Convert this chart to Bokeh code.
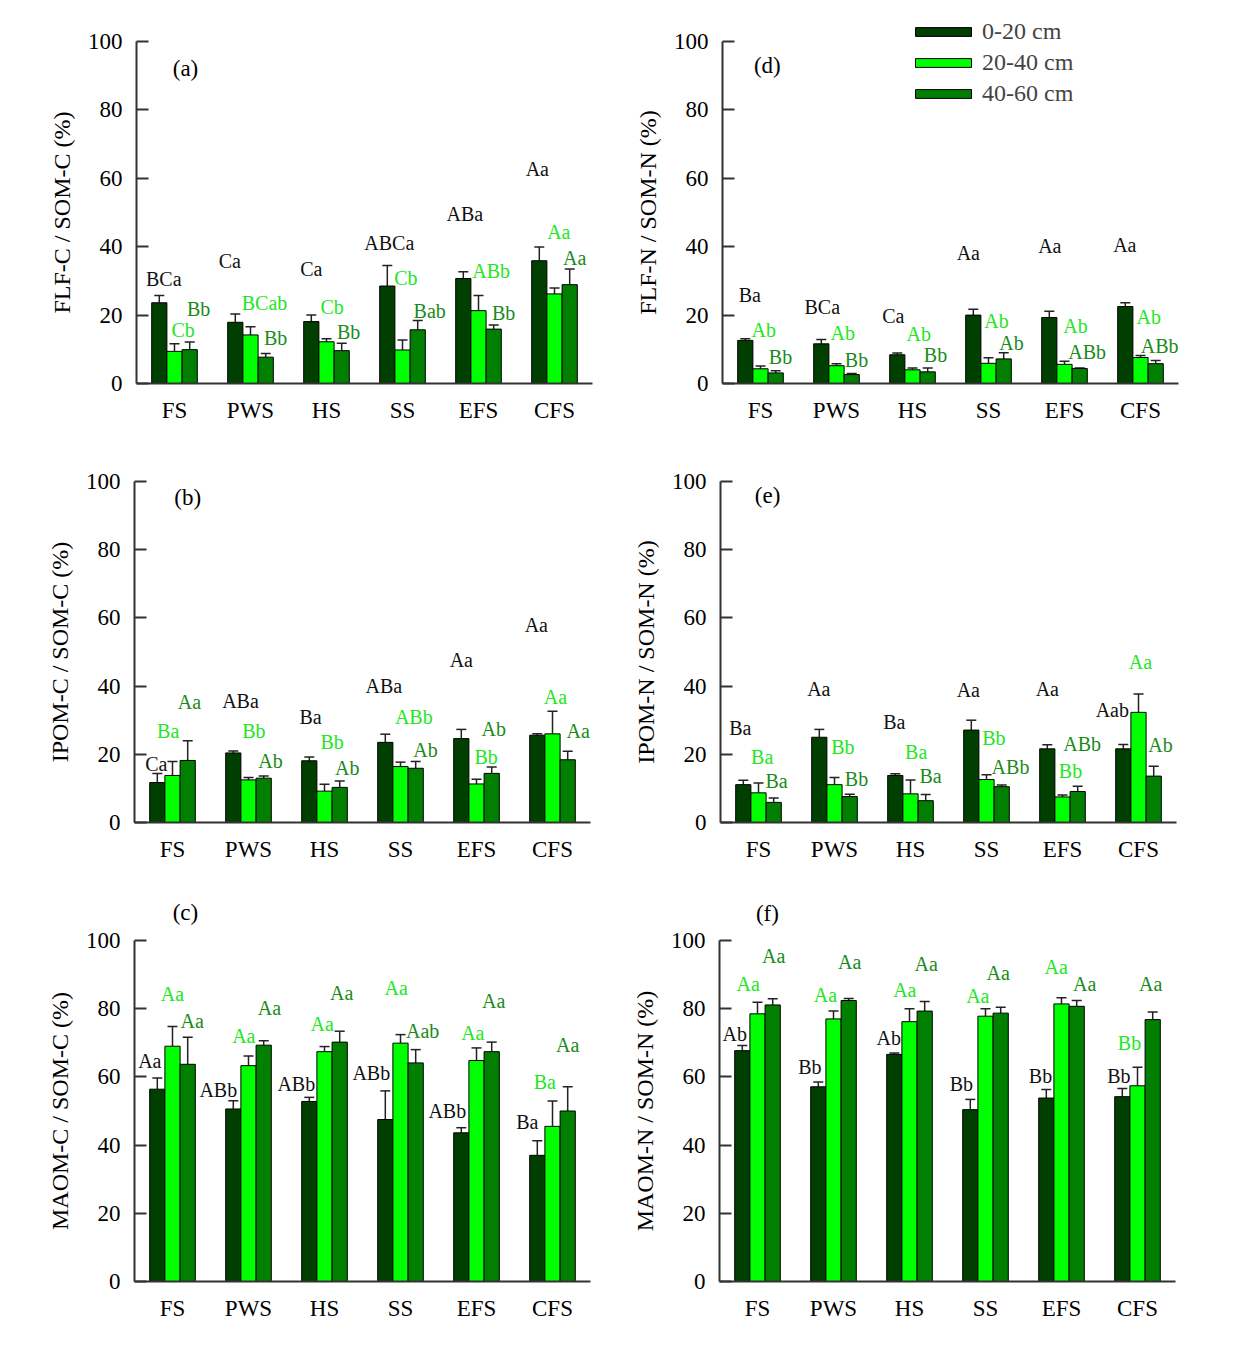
from bokeh.plotting import figure
from bokeh.models import (ColumnDataSource, FactorRange, Range1d, Whisker, TeeHead,
                          Label, Legend, LegendItem, FixedTicker, Title)
from bokeh.transform import dodge
from bokeh.layouts import column, row
from bokeh.embed import file_html
from bokeh.resources import INLINE
from bokeh.core.properties import value

# ---------------- data ----------------
cats = ["FS", "PWS", "HS", "SS", "EFS", "CFS"]
depths = ["0-20 cm", "20-40 cm", "40-60 cm"]

# (a) FLF-C / SOM-C (%)  rows: 0-20, 20-40, 40-60
flfc_mean = [[23.6, 17.9, 18.1, 28.5, 30.7, 35.9],
             [9.4, 14.2, 12.2, 9.8, 21.3, 26.2],
             [9.9, 7.7, 9.6, 15.7, 15.9, 28.9]]
flfc_err = [[2.1, 2.4, 1.9, 6.0, 2.0, 4.0],
            [2.2, 2.4, 0.9, 2.9, 4.4, 1.7],
            [2.2, 1.1, 2.2, 2.7, 1.2, 4.6]]
flfc_letters = [["BCa", "Ca", "Ca", "ABCa", "ABa", "Aa"],
                ["Cb", "BCab", "Cb", "Cb", "ABb", "Aa"],
                ["Bb", "Bb", "Bb", "Bab", "Bb", "Aa"]]

# (b) IPOM-C / SOM-C (%)
ipomc_mean = [[11.7, 20.4, 18.1, 23.5, 24.6, 25.6],
              [13.8, 12.5, 9.2, 16.4, 11.3, 26.0],
              [18.2, 13.0, 10.3, 15.9, 14.4, 18.4]]
ipomc_err = [[2.7, 0.6, 1.1, 2.4, 2.7, 0.4],
             [4.1, 0.7, 2.0, 1.3, 1.4, 6.6],
             [5.8, 0.6, 1.9, 2.0, 1.9, 2.5]]
ipomc_letters = [["Ca", "ABa", "Ba", "ABa", "Aa", "Aa"],
                 ["Ba", "Bb", "Bb", "ABb", "Bb", "Aa"],
                 ["Aa", "Ab", "Ab", "Ab", "Ab", "Aa"]]

# (c) MAOM-C / SOM-C (%)
maomc_mean = [[56.4, 50.6, 52.8, 47.5, 43.6, 37.0],
              [69.0, 63.3, 67.4, 69.9, 64.8, 45.5],
              [63.7, 69.3, 70.2, 64.1, 67.4, 50.0]]
maomc_err = [[3.3, 2.4, 1.2, 8.4, 1.5, 4.3],
             [5.8, 2.8, 1.5, 2.5, 3.7, 7.4],
             [7.9, 1.3, 3.2, 3.9, 2.8, 7.1]]
maomc_letters = [["Aa", "ABb", "ABb", "ABb", "ABb", "Ba"],
                 ["Aa", "Aa", "Aa", "Aa", "Aa", "Ba"],
                 ["Aa", "Aa", "Aa", "Aab", "Aa", "Aa"]]

# (d) FLF-N / SOM-N (%)
flfn_mean = [[12.6, 11.6, 8.4, 20.0, 19.3, 22.5],
             [4.3, 5.2, 4.0, 5.9, 5.6, 7.6],
             [3.1, 2.6, 3.4, 7.2, 4.4, 5.8]]
flfn_err = [[0.5, 1.3, 0.5, 1.7, 1.8, 1.1],
            [0.8, 0.6, 0.5, 1.6, 0.9, 0.6],
            [0.6, 0.3, 1.1, 1.8, 0.1, 0.9]]
flfn_letters = [["Ba", "BCa", "Ca", "Aa", "Aa", "Aa"],
                ["Ab", "Ab", "Ab", "Ab", "Ab", "Ab"],
                ["Bb", "Bb", "Bb", "Ab", "ABb", "ABb"]]

# (e) IPOM-N / SOM-N (%)
ipomn_mean = [[11.1, 25.0, 13.8, 27.1, 21.6, 21.6],
              [8.7, 11.1, 8.4, 12.6, 7.5, 32.3],
              [5.9, 7.6, 6.4, 10.5, 9.1, 13.6]]
ipomn_err = [[1.3, 2.3, 0.5, 2.9, 1.2, 1.3],
             [2.9, 2.1, 4.1, 1.4, 0.6, 5.4],
             [1.3, 0.7, 1.8, 0.5, 1.5, 2.9]]
ipomn_letters = [["Ba", "Aa", "Ba", "Aa", "Aa", "Aab"],
                 ["Ba", "Bb", "Ba", "Bb", "Bb", "Aa"],
                 ["Ba", "Bb", "Ba", "ABb", "ABb", "Ab"]]

# (f) MAOM-N / SOM-N (%)
maomn_mean = [[67.7, 57.1, 66.6, 50.4, 53.8, 54.2],
              [78.5, 77.0, 76.2, 77.8, 81.4, 57.4],
              [81.1, 82.4, 79.3, 78.7, 80.7, 76.8]]
maomn_err = [[1.5, 1.4, 0.4, 3.0, 2.5, 2.4],
             [3.4, 2.3, 3.8, 2.2, 1.8, 5.4],
             [1.8, 0.6, 2.8, 1.7, 1.7, 2.2]]
maomn_letters = [["Ab", "Bb", "Ab", "Bb", "Bb", "Bb"],
                 ["Aa", "Aa", "Aa", "Aa", "Aa", "Bb"],
                 ["Aa", "Aa", "Aa", "Aa", "Aa", "Aa"]]

# ---------------- letter placement (layout, not data) ----------------
flfc_ly = [[30.6, 35.7, 33.5, 41.0, 49.6, 62.8], [15.5, 23.6, 22.5, 30.8, 32.8, 44.4], [21.8, 13.3, 15.0, 21.3, 20.6, 36.8]]
flfc_dx = [[4.5, -5.5, 0, 2, 1.5, -2], [8.7, 14, 5.7, 3.3, 12.7, 4.3], [9, 10, 7, 12, 10, 5]]
ipomc_ly = [[17.2, 35.7, 31.0, 40.1, 47.6, 58.0], [26.9, 26.7, 23.5, 31.0, 19.1, 36.9], [35.4, 18.0, 16.0, 21.3, 27.4, 26.9]]
ipomc_dx = [[-1, 7.2, 1.2, -1.5, 0, -1], [-4.3, 5.3, 7.7, 13.3, 9.7, 3], [1.8, 6.8, 7.5, 9.8, 2, 10.5]]
maomc_ly = [[64.8, 56.3, 58.0, 61.2, 50.1, 46.9], [84.4, 72.1, 75.6, 86.1, 72.9, 58.4], [76.3, 80.1, 84.7, 73.4, 82.2, 69.5]]
maomc_dx = [[-7.5, -15, -13, -14, -14, -10], [0, -4.7, -2.3, -4.3, -3.7, -7.7], [4.5, 5.8, 2, 7, 2, 0]]
flfn_ly = [[26.0, 22.3, 19.7, 38.2, 40.1, 40.4], [15.7, 14.8, 14.5, 18.4, 16.8, 19.4], [7.7, 7.0, 8.2, 11.8, 9.2, 11.1]]
flfn_dx = [[4.5, 1, -4, -5, 0.5, -0.5], [3.3, 6.3, 6.3, 8, 11, 8.3], [4.8, 4.8, 7.8, 7.8, 7.5, 4.0]]
ipomn_ly = [[27.7, 39.2, 29.6, 38.9, 39.2, 33.1], [19.1, 22.1, 20.8, 24.8, 15.0, 47.2], [12.3, 12.8, 13.5, 16.4, 23.0, 22.8]]
ipomn_dx = [[-3, -0.5, -1, -3, 0, -11], [3.7, 8.3, 5.7, 7.3, 8, 2], [2.8, 6.8, 4.8, 8.8, 4.5, 6.8]]
maomn_ly = [[72.6, 62.8, 71.5, 58.0, 60.2, 60.2], [87.1, 84.1, 85.6, 83.6, 92.2, 70.0], [95.4, 93.6, 93.2, 90.5, 87.3, 87.3]]
maomn_dx = [[-7.5, -8.5, -5.5, -9, -5.8, -3.5], [-9.3, -8, -4.7, -7.7, -5.3, -8], [1, 1, 1.5, -2.5, 8, -2]]

FONT = "Liberation Serif"
BAR_COLORS = ["#003f00", "#00ff00", "#007f00"]
TEXT_COLORS = ["#111111", "#22e622", "#1a8a1a"]
OFFSETS = [-0.2, 0.0, 0.2]
AXIS_COLOR = "#333333"
FRAME_W = 456

# Times / Liberation Serif advance widths (em/1000) used to centre the
# rotated y titles on the 0..100 span of each axis
_W = {"F": 556, "L": 611, "I": 333, "P": 556, "O": 722, "M": 889, "A": 722,
      "C": 667, "N": 722, "S": 556, "-": 333, " ": 250, "/": 278, "(": 333,
      "%": 833, ")": 333}


def text_len(s, size):
    return sum(_W.get(ch, 500) for ch in s) / 1000.0 * size


def make_panel(means, errs, letters, lys, dxs, ylabel, tag, tag_xy,
               width, bl, bt, px100, frame_h, bb, legend_loc=None):
    # px100: pixel height of the 0..100 span; frame may extend above 100
    ymax = 100.0 * frame_h / px100
    height = bt + frame_h + bb
    p = figure(x_range=FactorRange(*cats, range_padding=0, factor_padding=0),
               y_range=Range1d(0, ymax), width=width, height=height,
               min_border_left=bl, min_border_right=width - bl - FRAME_W,
               min_border_top=bt, min_border_bottom=bb,
               output_backend="svg", toolbar_location=None)
    p.background_fill_color = "white"
    p.border_fill_color = "white"
    p.outline_line_color = None
    p.xgrid.visible = False
    p.ygrid.visible = False

    bar_renderers = []
    for k in range(3):
        src = ColumnDataSource(dict(
            cat=cats, mean=means[k],
            upper=[m + e for m, e in zip(means[k], errs[k])],
            letter=letters[k], ly=lys[k], dx=dxs[k]))
        xs = dodge("cat", OFFSETS[k], range=p.x_range)
        w = Whisker(base=xs, upper="upper", lower="mean", source=src,
                    line_color="#222222", line_width=1.5,
                    upper_head=TeeHead(size=10, line_color="#222222", line_width=1.5),
                    lower_head=None)
        p.add_layout(w)
        r = p.vbar(x=xs, top="mean", width=0.2, source=src,
                   fill_color=BAR_COLORS[k], line_color="black", line_width=1)
        bar_renderers.append(r)
        p.text(x=xs, y="ly", text="letter", x_offset="dx", source=src,
               text_font=value(FONT), text_font_size="20px",
               text_color=TEXT_COLORS[k], text_align="center",
               text_baseline="middle")

    p.yaxis.ticker = FixedTicker(ticks=[0, 20, 40, 60, 80, 100])
    p.yaxis.bounds = (0, 100)
    p.yaxis.major_tick_in = 12
    p.yaxis.major_tick_out = 0
    p.yaxis.minor_tick_line_color = None
    p.yaxis.major_label_standoff = 14
    p.xaxis.minor_tick_line_color = None
    p.xaxis.major_label_standoff = 8
    for ax in (p.xaxis, p.yaxis):
        ax.axis_line_color = AXIS_COLOR
        ax.axis_line_width = 2
        ax.major_tick_line_width = 2
        ax.major_label_text_font = FONT
        ax.major_label_text_font_size = "23px"
        ax.major_label_text_color = "black"
    p.yaxis.major_tick_line_color = AXIS_COLOR
    p.xaxis.major_tick_line_color = None

    # y title, centred on the 0..100 part of the axis
    off = px100 / 2.0 - text_len(ylabel, 24) / 2.0
    p.add_layout(Title(text=ylabel, align="left", offset=off,
                       vertical_align="middle", standoff=18,
                       text_font=FONT, text_font_size="24px",
                       text_font_style="normal", text_color="black"), "left")

    p.add_layout(Label(x=tag_xy[0], y=tag_xy[1], text=tag, text_font=FONT,
                       text_font_size="23px", text_align="center",
                       text_baseline="middle", text_color="black"))

    if legend_loc is not None:
        items = [LegendItem(label=d, renderers=[r]) for d, r in zip(depths, bar_renderers)]
        lg = Legend(items=items, location=legend_loc, orientation="vertical",
                    border_line_alpha=0, background_fill_alpha=0,
                    label_text_font=FONT, label_text_font_size="24px",
                    glyph_width=70, glyph_height=11, label_standoff=4,
                    spacing=4, padding=0, margin=0, label_height=24)
        p.add_layout(lg)
    return p


# row 1: frame extends to page top (room for legend); 0..100 spans 342 px
pa = make_panel(flfc_mean, flfc_err, flfc_letters, flfc_ly, flfc_dx,
                "FLF-C / SOM-C (%)", "(a)", (0.645, 92.1), 600, 136, 2, 342, 381, 57)
pd_ = make_panel(flfn_mean, flfn_err, flfn_letters, flfn_ly, flfn_dx,
                 "FLF-N / SOM-N (%)", "(d)", (0.59, 93.0), 618, 122, 2, 342, 381, 57,
                 legend_loc=(186, 276))
# row 2
pb = make_panel(ipomc_mean, ipomc_err, ipomc_letters, ipomc_ly, ipomc_dx,
                "IPOM-C / SOM-C (%)", "(b)", (0.70, 95.2), 600, 134, 41, 341, 341, 76)
pe = make_panel(ipomn_mean, ipomn_err, ipomn_letters, ipomn_ly, ipomn_dx,
                "IPOM-N / SOM-N (%)", "(e)", (0.62, 96.0), 618, 120, 41, 341, 341, 76)
# row 3: frame extends up for the (c)/(f) tags
pc = make_panel(maomc_mean, maomc_err, maomc_letters, maomc_ly, maomc_dx,
                "MAOM-C / SOM-C (%)", "(c)", (0.67, 108.2), 600, 134, 0, 341, 383, 57)
pf = make_panel(maomn_mean, maomn_err, maomn_letters, maomn_ly, maomn_dx,
                "MAOM-N / SOM-N (%)", "(f)", (0.63, 107.9), 618, 119, 0, 341, 383, 57)

layout = column(row(pa, pd_), row(pb, pe), row(pc, pf))
open("out.html", "w").write(file_html(layout, INLINE))
